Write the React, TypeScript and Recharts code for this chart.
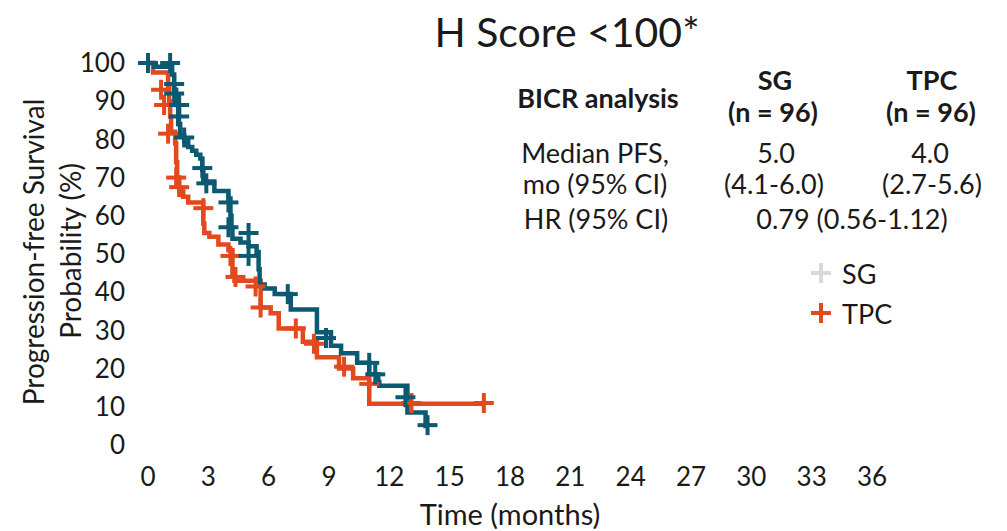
import React from 'react';
import { ComposedChart, Line, Scatter, XAxis, YAxis } from 'recharts';

document.body.style.margin = '0';

const TEAL = '#0b5a72';
const ORANGE = '#e2491d';
const FONT = 'Lato, "Open Sans", sans-serif';

// Kaplan-Meier step points (months, % progression-free)
const sgTime = [0, 0.3, 1.2, 1.3, 1.4, 1.5, 1.6, 1.8, 2.0, 2.2, 2.4, 2.6, 2.7, 2.75, 3.3, 4.0, 4.1, 4.15, 4.2, 4.6, 5.0, 5.4, 5.5, 5.55, 5.8, 6.3, 7.1, 8.4, 9.1, 9.6, 10.4, 11.0, 11.45, 11.5, 12.9, 13.8, 13.9];
const sgSurv = [100, 99, 97, 93, 89, 84, 81, 79.5, 78, 77, 76, 75, 72, 69, 66.5, 64.5, 60, 57, 54, 53, 52, 50.5, 46, 42, 41, 39.5, 35.5, 29.5, 26, 24, 21.5, 18.5, 16.5, 15.5, 8.5, 5, 5];

const tpcTime = [0, 0.25, 1.0, 1.05, 1.1, 1.15, 1.35, 1.4, 1.45, 1.55, 1.75, 2.0, 2.75, 2.8, 3.05, 3.5, 4.0, 4.2, 4.3, 5.6, 6.1, 6.5, 7.7, 8.4, 9.5, 10.2, 11.0, 16.7];
const tpcSurv = [100, 97.5, 94, 90, 86, 82, 79, 74, 70, 67, 65, 63.5, 58, 55.5, 54.5, 52.5, 51, 45, 43, 36, 34.5, 30.5, 27, 23, 20, 17.5, 10.8, 10.8];

// censored observations
const sgCensT = [0, 1.1, 1.3, 1.3, 1.55, 1.55, 1.8, 2.7, 2.9, 4.0, 4.0, 5.0, 5.0, 6.95, 8.85, 11.0, 11.3, 12.8, 13.9];
const sgCensS = [100, 100, 94.5, 92, 89, 86, 80.5, 72.5, 68.5, 63.5, 57, 55.5, 49.5, 39.5, 28, 21.5, 18.5, 12.5, 5.2];
const tpcCensT = [0.65, 0.8, 1.0, 1.4, 1.55, 2.75, 4.1, 4.35, 5.35, 5.6, 7.35, 8.25, 9.75, 11.0, 13.1, 16.7];
const tpcCensS = [93, 89, 81.5, 70, 67.5, 62, 49.5, 44, 41.5, 36, 30.5, 26.5, 20.5, 16, 11, 11];

const xTicks = [0, 3, 6, 9, 12, 15, 18, 21, 24, 27, 30, 33, 36];
const yTicks = [0, 10, 20, 30, 40, 50, 60, 70, 80, 90, 100];

const toPts = (ts: number[], ss: number[]) => ts.map((t, i) => ({ t, s: ss[i] }));
const sgCurve = toPts(sgTime, sgSurv);
const tpcCurve = toPts(tpcTime, tpcSurv);
const sgCens = toPts(sgCensT, sgCensS);
const tpcCens = toPts(tpcCensT, tpcCensS);

const plus = (color: string) => (props: any) => {
  const { cx, cy } = props;
  const r = 10;
  return (
    <g>
      <line x1={cx - r} x2={cx + r} y1={cy} y2={cy} stroke={color} strokeWidth={4} />
      <line x1={cx} x2={cx} y1={cy - r} y2={cy + r} stroke={color} strokeWidth={4} />
    </g>
  );
};

const abs = (x: number, y: number, size: number, bold = false): React.CSSProperties => ({
  position: 'absolute',
  left: x,
  top: y,
  transform: 'translate(-50%, -50%)',
  fontSize: size,
  fontWeight: bold ? 700 : 400,
  whiteSpace: 'nowrap',
  color: '#1a1a1a',
  lineHeight: 1,
});

export default function App() {
  return (
    <div style={{ position: 'relative', width: 1007, height: 531, fontFamily: FONT, background: '#fff' }}>
      <ComposedChart
        width={1007}
        height={531}
        margin={{ top: 63, right: 135, bottom: 56, left: 88 }}
        style={{ fontFamily: FONT }}
      >
        <XAxis
          type="number"
          dataKey="t"
          domain={[0, 36]}
          ticks={xTicks}
          axisLine={false}
          tickLine={false}
          tickMargin={17}
          interval={0}
          tick={{ fontSize: 26, fill: '#1a1a1a' }}
        />
        <YAxis
          type="number"
          dataKey="s"
          domain={[0, 100]}
          ticks={yTicks}
          width={60}
          axisLine={false}
          tickLine={false}
          tickMargin={17}
          interval={0}
          tick={{ fontSize: 26, fill: '#1a1a1a' }}
        />
        <Line data={tpcCurve} dataKey="s" type="stepAfter" stroke={ORANGE} strokeWidth={4.5} dot={false} isAnimationActive={false} />
        <Scatter data={tpcCens} dataKey="s" shape={plus(ORANGE)} isAnimationActive={false} />
        <Line data={sgCurve} dataKey="s" type="stepAfter" stroke={TEAL} strokeWidth={4.5} dot={false} isAnimationActive={false} />
        <Scatter data={sgCens} dataKey="s" shape={plus(TEAL)} isAnimationActive={false} />
      </ComposedChart>

      <div style={abs(567, 31, 41)}>H Score &lt;100*</div>

      <div style={{ ...abs(33, 252, 28), transform: 'translate(-50%, -50%) rotate(-90deg)' }}>Progression-free Survival</div>
      <div style={{ ...abs(70, 251, 28), transform: 'translate(-50%, -50%) rotate(-90deg)' }}>Probability (%)</div>
      <div style={abs(510, 513, 29)}>Time (months)</div>

      <div style={abs(598, 97, 27, true)}>BICR analysis</div>
      <div style={abs(775, 79, 27, true)}>SG</div>
      <div style={abs(773, 111, 27, true)}>(n = 96)</div>
      <div style={abs(932, 79, 27, true)}>TPC</div>
      <div style={abs(931, 111, 27, true)}>(n = 96)</div>
      <div style={abs(595, 152, 27)}>Median PFS,</div>
      <div style={abs(595, 183, 27)}>mo (95% CI)</div>
      <div style={abs(776, 152, 27)}>5.0</div>
      <div style={abs(774, 183, 27)}>(4.1-6.0)</div>
      <div style={abs(930, 152, 27)}>4.0</div>
      <div style={abs(932, 183, 27)}>(2.7-5.6)</div>
      <div style={abs(596, 218, 27)}>HR (95% CI)</div>
      <div style={abs(852, 218, 27)}>0.79 (0.56-1.12)</div>

      <svg style={{ position: 'absolute', left: 0, top: 0 }} width={1007} height={531} pointerEvents="none">
        {plus('#d9d9d9')({ cx: 821, cy: 273 })}
        {plus(ORANGE)({ cx: 821, cy: 313 })}
      </svg>
      <div style={{ ...abs(842, 273, 27), transform: 'translate(0, -50%)' }}>SG</div>
      <div style={{ ...abs(842, 313, 27), transform: 'translate(0, -50%)' }}>TPC</div>
    </div>
  );
}
